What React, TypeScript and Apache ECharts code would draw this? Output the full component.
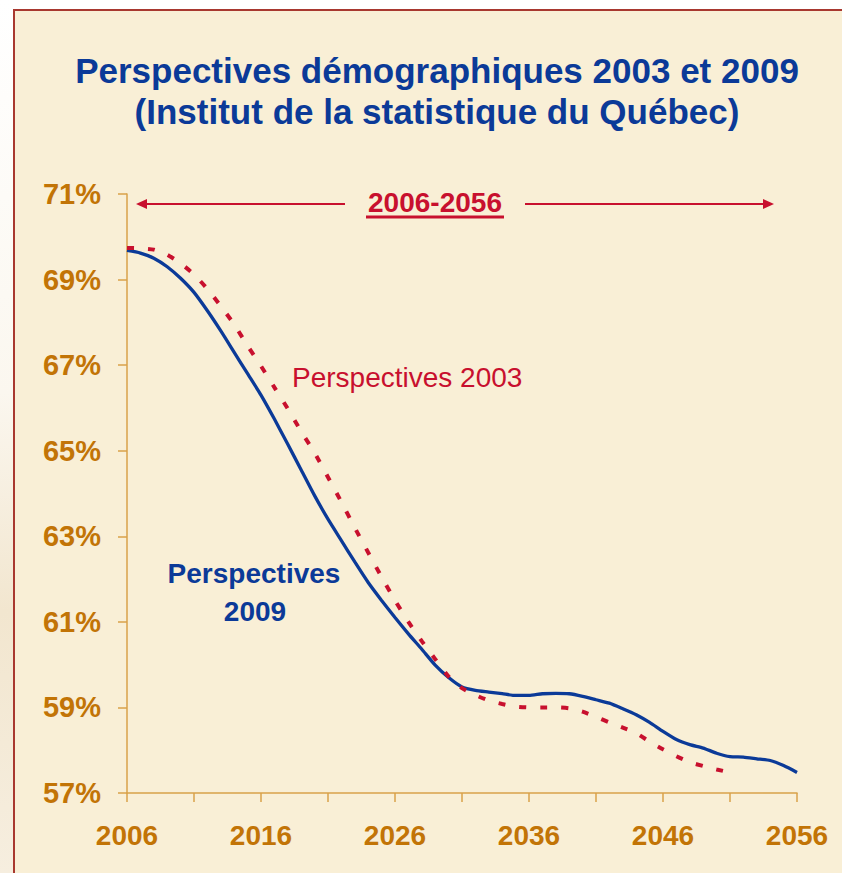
import React, { useEffect, useRef } from "react";
import * as echarts from "echarts";

const years = [
  "2006", "2007", "2008", "2009", "2010", "2011", "2012", "2013", "2014", "2015",
  "2016", "2017", "2018", "2019", "2020", "2021", "2022", "2023", "2024", "2025",
  "2026", "2027", "2028", "2029", "2030", "2031", "2032", "2033", "2034", "2035",
  "2036", "2037", "2038", "2039", "2040", "2041", "2042", "2043", "2044", "2045",
  "2046", "2047", "2048", "2049", "2050", "2051", "2052", "2053", "2054", "2055",
  "2056",
];

// Perspectives 2009 (2006-2056)
const persp2009 = [
  69.68, 69.62, 69.5, 69.3, 69.03, 68.7, 68.27, 67.8, 67.3, 66.8,
  66.3, 65.74, 65.15, 64.55, 63.95, 63.4, 62.9, 62.4, 61.92, 61.5,
  61.1, 60.72, 60.36, 59.99, 59.7, 59.48, 59.4, 59.36, 59.32, 59.28,
  59.28, 59.32, 59.33, 59.32, 59.26, 59.18, 59.1, 58.97, 58.83, 58.65,
  58.44, 58.25, 58.13, 58.05, 57.93, 57.85, 57.84, 57.8, 57.76, 57.64,
  57.48,
];

// Perspectives 2003 (2006-2051)
const persp2003 = [
  69.74, 69.73, 69.7, 69.58, 69.38, 69.12, 68.78, 68.38, 67.95, 67.45,
  66.98, 66.48, 65.98, 65.45, 64.95, 64.38, 63.8, 63.2, 62.62, 62.05,
  61.5, 61.0, 60.55, 60.13, 59.72, 59.45, 59.29, 59.16, 59.08, 59.02,
  59.0, 59.0, 59.0, 58.98, 58.9, 58.78, 58.65, 58.53, 58.4, 58.2,
  58.02, 57.86, 57.72, 57.63, 57.55, 57.48,
];

const yTickValues = [57, 59, 61, 63, 65, 67, 69, 71];

const title1 = "Perspectives démographiques 2003 et 2009";
const title2 = "(Institut de la statistique du Québec)";
const periodLabel = "2006-2056";
const label2003 = "Perspectives 2003";
const label2009a = "Perspectives";
const label2009b = "2009";

const FONT = "'Liberation Sans', Arial, Helvetica, sans-serif";
const ORANGE = "#C27406";
const AXIS = "#D8A24A";
const BLUE = "#0B3A98";
const RED = "#C8102E";
const PANEL = "#F9EFD6";

export default function App() {
  const ref = useRef<HTMLDivElement>(null);

  useEffect(() => {
    document.body.style.margin = "0";
    if (!ref.current) return;
    const chart = echarts.init(ref.current, null, { renderer: "svg" });
    const arrowY = 204;
    chart.setOption({
      animation: false,
      backgroundColor: "#FFFFFF",
      grid: { left: 127, right: 45, top: 194, bottom: 80, containLabel: false },
      xAxis: {
        type: "category",
        data: years,
        boundaryGap: false,
        axisLine: { lineStyle: { color: AXIS, width: 1.5 } },
        axisTick: { show: true, interval: 4, length: 9, lineStyle: { color: AXIS, width: 1.5 } },
        axisLabel: {
          interval: 9,
          margin: 28,
          color: ORANGE,
          fontSize: 28,
          fontWeight: "bold",
          fontFamily: FONT,
        },
        splitLine: { show: false },
      },
      yAxis: {
        type: "value",
        min: 57,
        max: 71,
        interval: 1,
        axisLine: { show: true, lineStyle: { color: AXIS, width: 1.5 } },
        axisTick: {
          show: true,
          length: 9,
          customValues: yTickValues,
          lineStyle: { color: AXIS, width: 1.5 },
        },
        axisLabel: {
          customValues: yTickValues,
          formatter: "{value}%",
          margin: 26,
          color: ORANGE,
          fontSize: 29,
          fontWeight: "bold",
          fontFamily: FONT,
        },
        splitLine: { show: false },
      },
      series: [
        {
          name: label2009a + " " + label2009b,
          type: "line",
          data: persp2009,
          showSymbol: false,
          smooth: 0.2,
          lineStyle: { color: BLUE, width: 3.3 },
          z: 3,
        },
        {
          name: label2003,
          type: "line",
          data: persp2003,
          showSymbol: false,
          smooth: 0.2,
          lineStyle: { color: RED, width: 4, type: [7, 14] },
          z: 4,
        },
      ],
      graphic: [
        {
          type: "rect",
          silent: true,
          z: -10,
          shape: { x: 0, y: 0, width: 14, height: 873 },
          style: {
            fill: new echarts.graphic.LinearGradient(0, 0, 0, 1, [
              { offset: 0, color: "#FFFFFF" },
              { offset: 0.45, color: "#FBF7EF" },
              { offset: 0.7, color: "#F2E6CF" },
              { offset: 1, color: "#F6EEDF" },
            ]),
          },
        },
        {
          type: "rect",
          silent: true,
          z: -9,
          shape: { x: 14, y: 10, width: 840, height: 880 },
          style: { fill: PANEL, stroke: "#A8382F", lineWidth: 2 },
        },
        {
          type: "text",
          x: 437,
          y: 70,
          style: {
            text: title1,
            fill: BLUE,
            font: `bold 35px ${FONT}`,
            textAlign: "center",
            textVerticalAlign: "middle",
          },
        },
        {
          type: "text",
          x: 437,
          y: 111,
          style: {
            text: title2,
            fill: BLUE,
            font: `bold 35px ${FONT}`,
            textAlign: "center",
            textVerticalAlign: "middle",
          },
        },
        // period arrows
        {
          type: "line",
          shape: { x1: 142, y1: arrowY, x2: 345, y2: arrowY },
          style: { stroke: RED, lineWidth: 2 },
        },
        {
          type: "polygon",
          shape: { points: [[136, arrowY], [147, arrowY - 5], [147, arrowY + 5]] },
          style: { fill: RED },
        },
        {
          type: "line",
          shape: { x1: 525, y1: arrowY, x2: 768, y2: arrowY },
          style: { stroke: RED, lineWidth: 2 },
        },
        {
          type: "polygon",
          shape: { points: [[774, arrowY], [763, arrowY - 5], [763, arrowY + 5]] },
          style: { fill: RED },
        },
        {
          type: "text",
          x: 435,
          y: 202,
          style: {
            text: periodLabel,
            fill: RED,
            font: `bold 28px ${FONT}`,
            textAlign: "center",
            textVerticalAlign: "middle",
          },
        },
        {
          type: "rect",
          shape: { x: 366, y: 215.5, width: 138, height: 3 },
          style: { fill: RED },
        },
        {
          type: "text",
          x: 292,
          y: 377,
          style: {
            text: label2003,
            fill: RED,
            font: `28px ${FONT}`,
            textAlign: "left",
            textVerticalAlign: "middle",
          },
        },
        {
          type: "text",
          x: 254,
          y: 573,
          style: {
            text: label2009a,
            fill: BLUE,
            font: `bold 28px ${FONT}`,
            textAlign: "center",
            textVerticalAlign: "middle",
          },
        },
        {
          type: "text",
          x: 255,
          y: 611,
          style: {
            text: label2009b,
            fill: BLUE,
            font: `bold 28px ${FONT}`,
            textAlign: "center",
            textVerticalAlign: "middle",
          },
        },
      ],
    });
    return () => chart.dispose();
  }, []);

  return <div ref={ref} style={{ width: 842, height: 873 }} />;
}
